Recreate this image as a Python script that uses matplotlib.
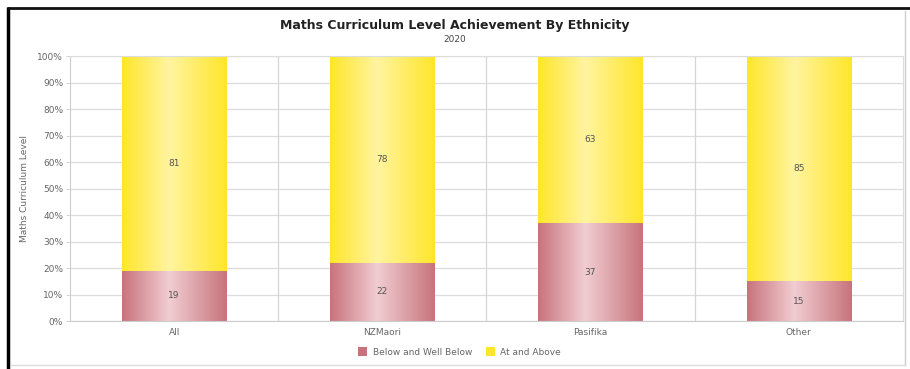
import numpy as np
import matplotlib
matplotlib.use("Agg")
import matplotlib.pyplot as plt
from matplotlib.colors import LinearSegmentedColormap
from matplotlib.lines import Line2D
from matplotlib.patches import Patch

categories = ["All", "NZMaori", "Pasifika", "Other"]
below = [19, 22, 37, 15]
above = [81, 78, 63, 85]
series_names = ["Below and Well Below", "At and Above"]
yticks = [0, 10, 20, 30, 40, 50, 60, 70, 80, 90, 100]

pink_edge, pink_mid = "#c8737c", "#f1cdd1"
yel_edge, yel_mid = "#ffe62a", "#fff4a0"

fig = plt.figure(figsize=(9.10, 3.69), dpi=100)
ax = fig.add_axes([0.077, 0.130, 0.915, 0.718])

x = np.arange(len(categories))
width = 0.5

def grad_cmap(edge, mid):
    return LinearSegmentedColormap.from_list("g", [(0, edge), (0.45, mid), (1, edge)])

grad = np.linspace(0, 1, 256).reshape(1, -1)

for vals, bottoms, edge, mid in [(below, [0]*4, pink_edge, pink_mid),
                                 (above, below, yel_edge, yel_mid)]:
    bars = ax.bar(x, vals, width, bottom=bottoms, color=edge, edgecolor="none", zorder=2)
    cmap = grad_cmap(edge, mid)
    for b, v, bt in zip(bars, vals, bottoms):
        x0, y0 = b.get_x(), b.get_y()
        im = ax.imshow(grad, cmap=cmap, aspect="auto",
                       extent=[x0, x0 + b.get_width(), y0, y0 + b.get_height()],
                       zorder=2.5)
        im.set_clip_path(b)
        ax.text(b.get_x() + b.get_width()/2, bt + v/2, str(v), ha="center", va="center",
                fontsize=6.5, color="#555555", zorder=4)

ax.set_xlim(-0.5, len(categories) - 0.5)
ax.set_ylim(0, 100)
ax.set_yticks(yticks)
ax.set_yticklabels([f"{t}%" for t in yticks])
ax.set_xticks(x)
ax.set_xticklabels(categories)
ax.tick_params(axis="both", labelsize=6.5, colors="#666666", length=3, width=0.6)
ax.tick_params(axis="x", length=0, pad=5)
ax.tick_params(axis="y", color="#cccccc", pad=2)
for yv in yticks:
    ax.axhline(yv, color="#dddddd", lw=0.9, zorder=1)
for xb in np.arange(0.5, len(categories) - 0.5, 1):
    ax.axvline(xb, color="#d5d5d5", lw=0.9, zorder=1)
for s in ["top", "right"]:
    ax.spines[s].set_color("#dddddd")
ax.spines["left"].set_color("#cccccc")
ax.spines["bottom"].set_color("#cccccc")
for s in ax.spines.values():
    s.set_linewidth(0.8)
ax.set_ylabel("Maths Curriculum Level", fontsize=6.5, color="#666666", labelpad=6)

fig.text(0.5, 0.932, "Maths Curriculum Level Achievement By Ethnicity", ha="center", va="center",
         fontsize=9, fontweight="bold", color="#222222")
fig.text(0.5, 0.893, "2020", ha="center", va="center", fontsize=6.5, color="#444444")

handles = [Patch(facecolor=pink_edge, edgecolor="none"), Patch(facecolor=yel_edge, edgecolor="none")]
fig.legend(handles, series_names, loc="center", bbox_to_anchor=(0.505, 0.046), ncol=2,
           frameon=False, fontsize=6.5, handlelength=1.0, handleheight=1.0,
           columnspacing=1.5, handletextpad=0.6, labelcolor="#666666")

# screenshot frame
fig.add_artist(Line2D([0.009, 0.009], [0, 0.98], transform=fig.transFigure, color="black",
                      lw=2.5, solid_capstyle="butt"))
fig.add_artist(Line2D([0.008, 1.0], [0.978, 0.978], transform=fig.transFigure, color="#111111",
                      lw=2, solid_capstyle="butt"))
fig.add_artist(Line2D([0.994, 0.994], [0.01, 0.97], transform=fig.transFigure, color="#cccccc", lw=1))
fig.add_artist(Line2D([0.012, 0.994], [0.012, 0.012], transform=fig.transFigure, color="#dddddd", lw=1))

fig.savefig("out.png", dpi=100)
